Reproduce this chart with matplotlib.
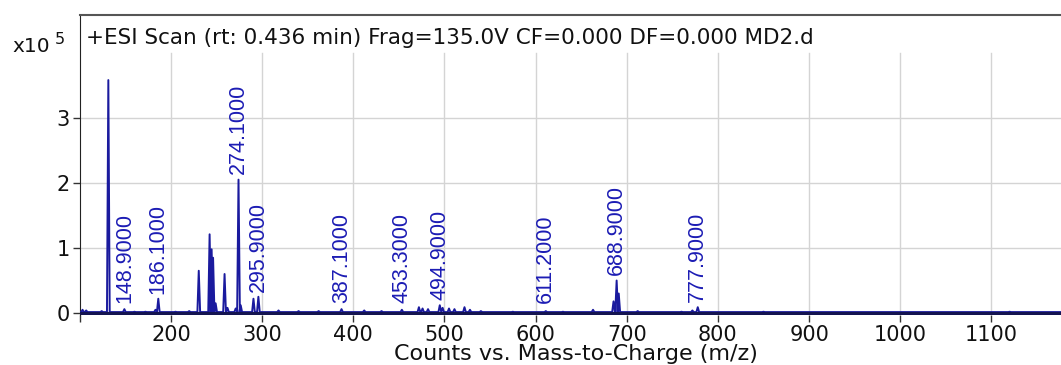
import numpy as np
import matplotlib.pyplot as plt

# Peak list of the ESI scan: m/z and intensity (x10^5 counts)
peak_mz = [103, 107, 124, 131.3, 148.9, 160, 172, 183, 186.1, 205, 220,
           230.5, 242.4, 244.6, 246.2, 249, 258.8, 262, 271, 274.1, 276.5,
           290.5, 295.9, 318, 340, 362, 387.1, 412, 431, 453.3, 472, 476,
           482, 494.9, 498, 505, 511, 522, 528, 540, 575, 611.2, 630, 663,
           685.5, 688.9, 691.2, 712, 760, 772, 777.9, 850, 1120]
peak_int = [0.05, 0.04, 0.03, 3.58, 0.06, 0.02, 0.02, 0.05, 0.22, 0.02, 0.03,
            0.65, 1.21, 0.98, 0.85, 0.15, 0.6, 0.08, 0.07, 2.05, 0.12,
            0.22, 0.25, 0.04, 0.03, 0.03, 0.06, 0.04, 0.03, 0.05, 0.09, 0.07,
            0.06, 0.12, 0.08, 0.07, 0.06, 0.09, 0.05, 0.03, 0.02, 0.03, 0.02, 0.05,
            0.18, 0.5, 0.3, 0.03, 0.02, 0.04, 0.09, 0.02, 0.02]

# Annotated peaks
label_mz = [148.9, 186.1, 274.1, 295.9, 387.1, 453.3, 494.9, 611.2, 688.9, 777.9]
label_int = [0.06, 0.22, 2.05, 0.25, 0.06, 0.05, 0.12, 0.03, 0.5, 0.09]

x_ticks = [200, 300, 400, 500, 600, 700, 800, 900, 1000, 1100]
y_ticks = [0, 1, 2, 3]

line_color = "#1a1a9e"
plt.rcParams["font.family"] = ["DejaVu Sans"]

# Build a profile trace: each centroid as a narrow peak on a low baseline
baseline = 0.015
half_width = 1.5
xs = [100]
ys = [baseline]
for mz, h in sorted(zip(peak_mz, peak_int)):
    xs += [mz - half_width, mz, mz + half_width]
    ys += [baseline, h, baseline]
xs.append(1188)
ys.append(baseline)

fig = plt.figure(figsize=(10.61, 3.65), dpi=100)
ax = fig.add_axes([79.8 / 1061, 50 / 365, (1061 - 79.8) / 1061 + 0.01, 300 / 365])

ax.set_xlim(100, 1188)
ax.set_ylim(-0.03, 4.58)

# grid: vertical lines stop below the header band
for t in x_ticks:
    ax.plot([t, t], [0, 4.0], color="#d4d4d4", lw=1, zorder=0)
for t in y_ticks[1:]:
    ax.axhline(t, color="#d4d4d4", lw=1, zorder=0)

ax.plot(xs, ys, color=line_color, lw=1.4, zorder=3)
ax.axhline(0, color="#141450", lw=2.2, zorder=4)

for mz, h in zip(label_mz, label_int):
    ax.text(mz, max(h, 0.07) + 0.08, f"{mz:.4f}", rotation=90, ha="center", va="bottom",
            color="#1c1cb4", fontsize=15.5, family="Liberation Sans", zorder=5)

ax.set_xticks(x_ticks + [100])
ax.set_xticklabels([str(t) for t in x_ticks] + [""])
ax.set_yticks(y_ticks)
ax.tick_params(axis="both", direction="out", length=5, width=1, colors="#333333",
               labelsize=15, labelcolor="#111111", pad=2)

ax.spines["right"].set_visible(False)
ax.spines["left"].set_color("#222222")
ax.spines["top"].set_color("#555555")
ax.spines["top"].set_linewidth(1.5)
ax.spines["bottom"].set_visible(False)

ax.text(0.006, 0.925, "+ESI Scan (rt: 0.436 min) Frag=135.0V CF=0.000 DF=0.000 MD2.d",
        transform=ax.transAxes, fontsize=15.5, color="#111111", va="center", ha="left")
fig.text(576 / 1061, 1 / 365, "Counts vs. Mass-to-Charge (m/z)", fontsize=16,
         color="#111111", ha="center", va="bottom")

fig.text(12 / 1061, 1 - 46 / 365, "x10", fontsize=14.5, color="#111111", va="center")
fig.text(55 / 1061, 1 - 40 / 365, "5", fontsize=11.5, color="#111111", va="center")

fig.savefig("out.png", dpi=100)
